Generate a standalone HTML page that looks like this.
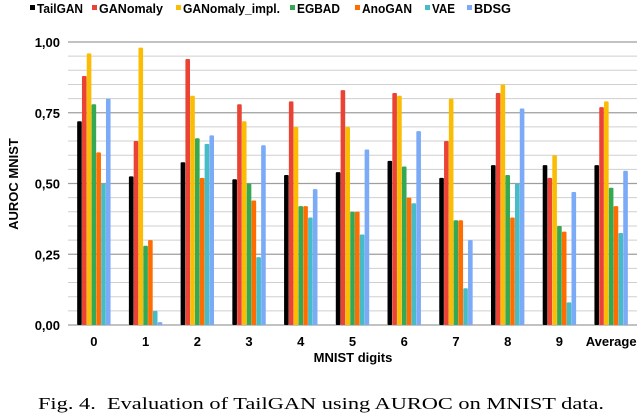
<!DOCTYPE html>
<html><head><meta charset="utf-8"><style>
body{margin:0;background:#fff;}
svg{display:block;font-family:"Liberation Sans",Arial,sans-serif;}
</style></head><body>
<svg id="chart" width="640" height="415" viewBox="0 0 640 415" xmlns="http://www.w3.org/2000/svg">
<g id="grid"></g>
<g id="bars"></g>
<g id="axes"></g>
<g id="legend"></g>
<text transform="translate(18,184) rotate(-90)" text-anchor="middle" font-size="13" font-weight="bold">AUROC MNIST</text>
<text x="353" y="362" text-anchor="middle" font-size="13" font-weight="bold">MNIST digits</text>
<text x="38" y="409" font-size="17" textLength="566" lengthAdjust="spacingAndGlyphs" font-family="Liberation Serif, serif" xml:space="preserve">Fig. 4.  Evaluation of TailGAN using AUROC on MNIST data.</text>
</svg>
<script>
const categories=["0","1","2","3","4","5","6","7","8","9","Average"];
const seriesNames=["TailGAN","GANomaly","GANomaly_impl.","EGBAD","AnoGAN","VAE","BDSG"];
const tailgan=[0.72,0.525,0.575,0.515,0.53,0.54,0.58,0.52,0.565,0.565,0.565];
const ganomaly=[0.88,0.65,0.94,0.78,0.79,0.83,0.82,0.65,0.82,0.52,0.77];
const ganomalyImpl=[0.96,0.98,0.81,0.72,0.70,0.70,0.81,0.80,0.85,0.60,0.79];
const egbad=[0.78,0.28,0.66,0.50,0.42,0.40,0.56,0.37,0.53,0.35,0.485];
const anogan=[0.61,0.30,0.52,0.44,0.42,0.40,0.45,0.37,0.38,0.33,0.42];
const vae=[0.50,0.05,0.64,0.24,0.38,0.32,0.43,0.13,0.50,0.08,0.325];
const bdsg=[0.80,0.01,0.67,0.635,0.48,0.62,0.685,0.30,0.765,0.47,0.545];
const yTicks=[0,0.25,0.5,0.75,1.0];
const yTickLabels=["0,00","0,25","0,50","0,75","1,00"];
const colors=["#000000","#ea4335","#fbbc04","#34a853","#ff6d01","#46bdc6","#7baaf7"];
const series=[tailgan,ganomaly,ganomalyImpl,egbad,anogan,vae,bdsg];
const NS="http://www.w3.org/2000/svg";
const x0=68,x1=637,yTop=42,yBot=325;
const y=v=>yBot-(v)*(yBot-yTop);
const step=(x1-x0)/categories.length;
const cx=i=>x0+step*(i+0.5);
const bw=4.6,bg=4.8;
function mk(t,a,p){const e=document.createElementNS(NS,t);for(const k in a)e.setAttribute(k,a[k]);p.appendChild(e);return e;}
const grid=document.getElementById('grid');
for(let k=0;k<=20;k++){const v=k*0.05;const major=k%5==0;
 const l=mk('line',{x1:x0,x2:x1,y1:y(v),y2:y(v),stroke:major?'#9e9e9e':'#cfcfcf','stroke-width':major?1.3:1},grid);
 
 }
const axes=document.getElementById('axes');
yTicks.forEach((v,i)=>{const t=mk('text',{x:60,y:y(v)+5,'text-anchor':'end','font-size':13,'font-weight':'bold'},axes);t.textContent=yTickLabels[i];
 
 });
categories.forEach((c,i)=>{const t=mk('text',{x:cx(i),y:346,'text-anchor':'middle','font-size':13,'font-weight':'bold'},axes);t.textContent=c;
 
 });
const bars=document.getElementById('bars');
series.forEach((s,si)=>{s.forEach((v,i)=>{const bx=cx(i)+(si-3)*bg-bw/2;
 const r=mk('rect',{x:bx,y:y(v),width:bw,height:yBot-y(v),fill:colors[si],rx:1},bars);
 
 });});
const legend=document.getElementById('legend');
const lx=[30,92,176,290,355,425,467];
const lw=[46,64,97,43,50,23,37];
seriesNames.forEach((n,i)=>{const g=mk('g',{},legend);
 
 
 mk('rect',{x:lx[i],y:5,width:5,height:5,fill:colors[i]},g);
 const t=mk('text',{x:lx[i]+7,y:13,'font-size':12.5,'font-weight':'bold',textLength:lw[i],lengthAdjust:'spacingAndGlyphs'},g);t.textContent=n;});
</script>
</body></html>
